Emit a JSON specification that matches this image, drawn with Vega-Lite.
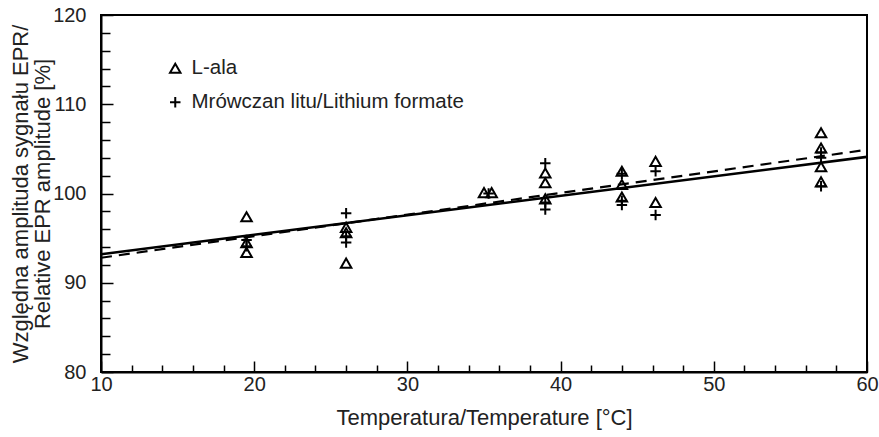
{
  "$schema": "https://vega.github.io/schema/vega-lite/v6.json",
  "autosize": "none",
  "padding": {"left": 101, "top": 15, "right": 12, "bottom": 65},
  "width": 766,
  "height": 357,
  "background": "white",
  "config": {
    "view": {"stroke": "black", "strokeWidth": 2},
    "font": "Liberation Sans",
    "axis": {"labelOverlap": false, "labelBound": false, "grid": false}
  },
  "datasets": {
    "pts": [
      {"t": 19.5, "a": 97.4, "s": "L-ala"},
      {"t": 19.5, "a": 94.5, "s": "L-ala"},
      {"t": 19.5, "a": 93.4, "s": "L-ala"},
      {"t": 26, "a": 96.2, "s": "L-ala"},
      {"t": 26, "a": 95.6, "s": "L-ala"},
      {"t": 26, "a": 92.2, "s": "L-ala"},
      {"t": 35, "a": 100.1, "s": "L-ala"},
      {"t": 35.5, "a": 100.1, "s": "L-ala"},
      {"t": 39, "a": 102.3, "s": "L-ala"},
      {"t": 39, "a": 101.2, "s": "L-ala"},
      {"t": 39, "a": 99.4, "s": "L-ala"},
      {"t": 44, "a": 102.5, "s": "L-ala"},
      {"t": 44, "a": 101.0, "s": "L-ala"},
      {"t": 44, "a": 99.6, "s": "L-ala"},
      {"t": 46.2, "a": 103.6, "s": "L-ala"},
      {"t": 46.2, "a": 99.0, "s": "L-ala"},
      {"t": 57, "a": 106.8, "s": "L-ala"},
      {"t": 57, "a": 105.1, "s": "L-ala"},
      {"t": 57, "a": 103.0, "s": "L-ala"},
      {"t": 57, "a": 101.3, "s": "L-ala"},
      {"t": 19.5, "a": 94.8, "s": "Mrówczan litu/Lithium formate"},
      {"t": 19.5, "a": 94.1, "s": "Mrówczan litu/Lithium formate"},
      {"t": 26, "a": 97.8, "s": "Mrówczan litu/Lithium formate"},
      {"t": 26, "a": 95.2, "s": "Mrówczan litu/Lithium formate"},
      {"t": 26, "a": 94.5, "s": "Mrówczan litu/Lithium formate"},
      {"t": 35.3, "a": 100.0, "s": "Mrówczan litu/Lithium formate"},
      {"t": 39, "a": 103.4, "s": "Mrówczan litu/Lithium formate"},
      {"t": 39, "a": 99.0, "s": "Mrówczan litu/Lithium formate"},
      {"t": 39, "a": 98.2, "s": "Mrówczan litu/Lithium formate"},
      {"t": 44, "a": 102.2, "s": "Mrówczan litu/Lithium formate"},
      {"t": 44, "a": 99.2, "s": "Mrówczan litu/Lithium formate"},
      {"t": 44, "a": 98.7, "s": "Mrówczan litu/Lithium formate"},
      {"t": 46.2, "a": 102.5, "s": "Mrówczan litu/Lithium formate"},
      {"t": 46.2, "a": 97.6, "s": "Mrówczan litu/Lithium formate"},
      {"t": 57, "a": 104.6, "s": "Mrówczan litu/Lithium formate"},
      {"t": 57, "a": 104.0, "s": "Mrówczan litu/Lithium formate"},
      {"t": 57, "a": 100.8, "s": "Mrówczan litu/Lithium formate"}
    ],
    "fits": [
      {"t": 10, "a": 93.2, "f": "solid"},
      {"t": 60, "a": 104.1, "f": "solid"},
      {"t": 10, "a": 92.8, "f": "dashed"},
      {"t": 60, "a": 104.9, "f": "dashed"}
    ]
  },
  "encoding": {
    "x": {
      "field": "t", "type": "quantitative",
      "scale": {"domain": [10, 60], "nice": false, "zero": false},
      "axis": {
        "title": "Temperatura/Temperature [°C]",
        "values": [10,12,14,16,18,20,22,24,26,28,30,32,34,36,38,40,42,44,46,48,50,52,54,56,58,60],
        "labelExpr": "datum.value % 10 === 0 ? datum.label : ''",
        "labelOverlap": false,
        "domainColor": "black", "domainWidth": 2,
        "tickColor": "black", "tickWidth": 1.5,
        "tickSize": {"condition": {"test": "datum.value % 10 === 0", "value": -11}, "value": -7},
        "labelFontSize": 20, "labelColor": "#222",
        "labelPadding": 13, "labelFlush": false,
        "titleFontSize": 22, "titleFontWeight": "normal", "titleColor": "#222",
        "titlePadding": 9
      }
    },
    "y": {
      "field": "a", "type": "quantitative",
      "scale": {"domain": [80, 120], "nice": false, "zero": false},
      "axis": {
        "title": ["Względna amplituda sygnału EPR/", "Relative EPR amplitude [%]"],
        "values": [80,82,84,86,88,90,92,94,96,98,100,102,104,106,108,110,112,114,116,118,120],
        "labelExpr": "datum.value % 10 === 0 ? datum.label : ''",
        "labelOverlap": false,
        "domainColor": "black", "domainWidth": 2,
        "tickColor": "black", "tickWidth": 1.5,
        "tickSize": {"condition": {"test": "datum.value % 10 === 0", "value": -12}, "value": -9},
        "labelFontSize": 20, "labelColor": "#222", "labelPadding": 27, "labelFlush": false,
        "titleFontSize": 22, "titleFontWeight": "normal", "titleColor": "#222", "titlePadding": -2, "titleLineHeight": 22
      }
    }
  },
  "layer": [
    {
      "data": {"name": "fits"},
      "transform": [{"filter": "datum.f === 'solid'"}],
      "mark": {"type": "line", "color": "black", "strokeWidth": 2.6, "clip": true}
    },
    {
      "data": {"name": "fits"},
      "transform": [{"filter": "datum.f === 'dashed'"}],
      "mark": {"type": "line", "color": "black", "strokeWidth": 2.2, "strokeDash": [11, 7], "clip": true}
    },
    {
      "data": {"name": "pts"},
      "mark": {"type": "point", "filled": false, "color": "black", "strokeWidth": 2, "size": 110, "opacity": 1},
      "encoding": {
        "shape": {
          "field": "s", "type": "nominal",
          "scale": {"domain": ["L-ala", "Mrówczan litu/Lithium formate"], "range": ["triangle-up", "M-1,0H1M0,-1V1"]},
          "legend": {
            "title": null, "orient": "none", "legendX": 64, "legendY": 43,
            "symbolStrokeColor": "black", "symbolFillColor": "transparent", "symbolStrokeWidth": 2,
            "symbolSize": 110, "labelFontSize": 20.5, "labelColor": "#222", "labelOffset": 6,
            "labelLimit": 500, "rowPadding": 13
          }
        }
      }
    }
  ]
}
